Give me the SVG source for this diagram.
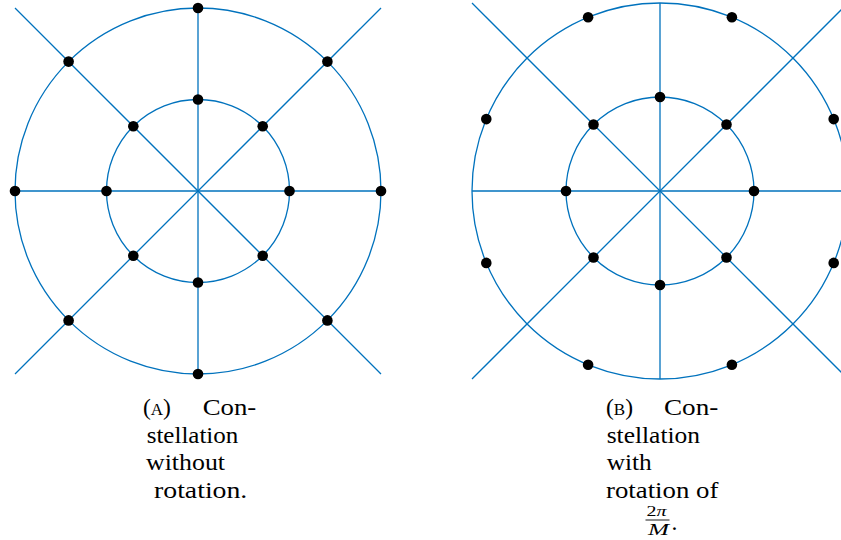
<svg xmlns="http://www.w3.org/2000/svg" width="841" height="540" viewBox="0 0 841 540">
<style>
.ln{stroke:#0072BD;stroke-width:1.3;fill:none}
.dot{fill:#000}
.t{font-family:"Liberation Serif","Times New Roman",serif;font-size:23.5px;fill:#000}
.sc{font-size:17px}
</style>
<rect width="841" height="540" fill="#fff"/>
<g id="plotA">
<g id="connectorsA" class="ln">
<circle cx="198" cy="191" r="183"/>
<circle cx="198" cy="191" r="91.5"/>
<line x1="198" y1="8" x2="198" y2="374"/>
<line x1="15" y1="191" x2="381" y2="191"/>
<line x1="15" y1="8" x2="381" y2="374"/>
<line x1="15" y1="374" x2="381" y2="8"/>
</g>
<g id="pointsA" class="dot">
<circle cx="198" cy="8" r="5.3"/><circle cx="327.4" cy="61.6" r="5.3"/><circle cx="381" cy="191" r="5.3"/><circle cx="327.4" cy="320.4" r="5.3"/>
<circle cx="198" cy="374" r="5.3"/><circle cx="68.6" cy="320.4" r="5.3"/><circle cx="15" cy="191" r="5.3"/><circle cx="68.6" cy="61.6" r="5.3"/>
<circle cx="198" cy="99.5" r="5.3"/><circle cx="262.7" cy="126.3" r="5.3"/><circle cx="289.5" cy="191" r="5.3"/><circle cx="262.7" cy="255.7" r="5.3"/>
<circle cx="198" cy="282.5" r="5.3"/><circle cx="133.3" cy="255.7" r="5.3"/><circle cx="106.5" cy="191" r="5.3"/><circle cx="133.3" cy="126.3" r="5.3"/>
</g>
</g>
<g id="plotB">
<g id="connectorsB" class="ln">
<circle cx="660" cy="191" r="188"/>
<circle cx="660" cy="191" r="94"/>
<line x1="660" y1="3" x2="660" y2="379"/>
<line x1="472" y1="191" x2="848" y2="191"/>
<line x1="472" y1="3" x2="848" y2="379"/>
<line x1="472" y1="379" x2="848" y2="3"/>
</g>
<g id="pointsB" class="dot">
<circle cx="731.9" cy="17.3" r="5.3"/><circle cx="833.7" cy="119.1" r="5.3"/><circle cx="833.7" cy="262.9" r="5.3"/><circle cx="731.9" cy="364.7" r="5.3"/>
<circle cx="588.1" cy="364.7" r="5.3"/><circle cx="486.3" cy="262.9" r="5.3"/><circle cx="486.3" cy="119.1" r="5.3"/><circle cx="588.1" cy="17.3" r="5.3"/>
<circle cx="660" cy="97" r="5.3"/><circle cx="726.5" cy="124.5" r="5.3"/><circle cx="754" cy="191" r="5.3"/><circle cx="726.5" cy="257.5" r="5.3"/>
<circle cx="660" cy="285" r="5.3"/><circle cx="593.5" cy="257.5" r="5.3"/><circle cx="566" cy="191" r="5.3"/><circle cx="593.5" cy="124.5" r="5.3"/>
</g>
</g>
<g id="captionA" class="t">
<text x="143" y="415">(<tspan class="sc">A</tspan>)</text>
<text x="202.7" y="415" textLength="53.5" lengthAdjust="spacingAndGlyphs">Con-</text>
<text x="146.7" y="442.5" textLength="91.6" lengthAdjust="spacingAndGlyphs">stellation</text>
<text x="146" y="470" textLength="79" lengthAdjust="spacingAndGlyphs">without</text>
<text x="154" y="497.5" textLength="93.3" lengthAdjust="spacingAndGlyphs">rotation.</text>
</g>
<g id="captionB" class="t">
<text x="606" y="415">(<tspan class="sc">B</tspan>)</text>
<text x="664" y="415" textLength="54.3" lengthAdjust="spacingAndGlyphs">Con-</text>
<text x="606.7" y="442.5" textLength="93.3" lengthAdjust="spacingAndGlyphs">stellation</text>
<text x="606.7" y="470" textLength="45" lengthAdjust="spacingAndGlyphs">with</text>
<text x="606" y="497.5" textLength="112.3" lengthAdjust="spacingAndGlyphs">rotation of</text>
<text x="646.5" y="516" font-size="14px" textLength="20" lengthAdjust="spacingAndGlyphs">2<tspan font-style="italic">π</tspan></text>
<line x1="645.5" y1="520" x2="669.5" y2="520" stroke="#000" stroke-width="0.9"/>
<text x="648" y="535" font-size="16px" font-style="italic" textLength="21" lengthAdjust="spacingAndGlyphs">M</text>
<text x="671.5" y="530">.</text>
</g>
</svg>
